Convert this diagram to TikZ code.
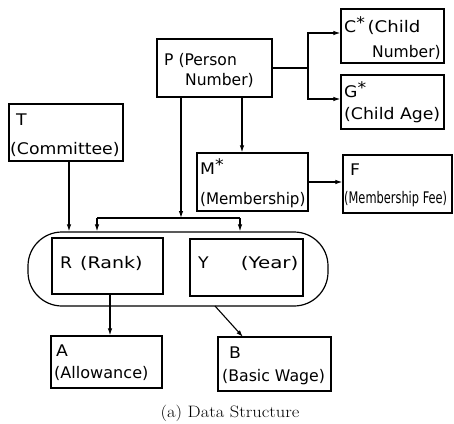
\documentclass[tikz,border=0pt]{standalone}
\usepackage{fontspec}
\usepackage{graphicx}
\setmainfont{DejaVu Sans}
\newfontfamily\boxfont[FakeStretch=1.08]{DejaVu Sans}
\newfontfamily\capfont{Latin Modern Roman}
\usetikzlibrary{arrows.meta}
\newcommand{\sx}[2]{\scalebox{#1}[1]{#2}}
\tikzset{
  box/.style={draw, line width=1.2pt, inner sep=0pt},
  txt/.style={anchor=base west, inner sep=0pt, font=\boxfont\fontsize{16}{16}\selectfont},
  arr/.style={line width=1.1pt, -{Latex[length=7pt,width=4.5pt]}},
  ln/.style={line width=1.1pt}
}
\begin{document}
\begin{tikzpicture}[x=1pt,y=-1pt]
\useasboundingbox (0,0) rectangle (454,423);
% boxes
\node[box, minimum width=103pt, minimum height=54pt] (C) at (392.5,36) {};
\node[box, minimum width=103pt, minimum height=54pt] (G) at (392.5,102) {};
\node[box, minimum width=115pt, minimum height=58pt] (P) at (214.5,68) {};
\node[box, minimum width=114pt, minimum height=57pt] (T) at (66,132.5) {};
\node[box, minimum width=111pt, minimum height=58pt] (M) at (252.5,182) {};
\node[box, minimum width=109pt, minimum height=58pt] (F) at (397.5,184) {};
\node[box, rounded corners=34pt, minimum width=300pt, minimum height=74pt] (E) at (178,269) {};
\node[box, minimum width=111pt, minimum height=56pt] (R) at (107.5,266) {};
\node[box, minimum width=113pt, minimum height=57pt] (Y) at (246.5,267.5) {};
\node[box, minimum width=111pt, minimum height=52pt] (A) at (106.5,362) {};
\node[box, minimum width=113pt, minimum height=54pt] (B) at (274.5,364) {};
% texts
\node[txt] (c1) at (344,32) {C\raisebox{4pt}{*}\,\sx{1.05}{(Child}};
\node[txt] (c2) at (372,57) {\sx{0.9}{Number)}};
\node[txt] (g1) at (344,97) {G\raisebox{4pt}{*}};
\node[txt] (g2) at (344,119) {(Child Age)};
\node[txt] (p1) at (164,65) {\sx{0.9}{P (Person}};
\node[txt] (p2) at (185,85) {\sx{0.9}{Number)}};
\node[txt] (t1) at (16,125) {T};
\node[txt] (t2) at (10,154) {(Committee)};
\node[txt] (m1) at (200,174) {M\raisebox{4pt}{*}};
\node[txt] (m2) at (200,204) {\sx{0.875}{(Membership)}};
\node[txt] (f1) at (350,175) {F};
\node[txt] (f2) at (344,203) {\sx{0.66}{(Membership Fee)}};
\node[txt] (r1) at (60,268) {R\enspace\sx{1.1}{(Rank)}};
\node[txt] (y1) at (198,268) {Y\qquad\sx{1.15}{(Year)}};
\node[txt] (a1) at (56,356) {A};
\node[txt] (a2) at (54,378) {\sx{0.93}{(Allowance)}};
\node[txt] (b1) at (229,358) {B};
\node[txt] (b2) at (222,381) {\sx{0.91}{(Basic Wage)}};
\node[anchor=base, inner sep=0pt, font=\capfont\fontsize{16.5}{16.5}\selectfont] (cap) at (230,417) {\sx{1.12}{(a) Data Structure}};
% connectors
\coordinate (j1) at (308,68);
\draw[ln] (P.east |- j1) -- (j1);
\draw[arr] (j1) |- ([yshift=3pt]C.west);
\draw[arr] (j1) |- ([yshift=3pt]G.west);
\draw[arr] (M.east) -- (M.east -| F.west);
\coordinate (pm) at (242,97);
\draw[arr] (pm) -- (pm |- M.north);
\coordinate (pb) at (181,97);
\coordinate (bus) at (181,218);
\coordinate (busL) at (97,218);
\coordinate (busR) at (240,218);
\draw[arr] (pb) -- (bus);
\draw[ln] (busL) -- (busR);
\draw[arr] (busL) -- (busL |- E.north);
\draw[arr] (busR) -- (busR |- E.north);
\coordinate (tr) at (69,161);
\draw[arr] (tr) -- (tr |- E.north);
\coordinate (ra) at (110,294);
\draw[arr] (ra) -- (ra |- A.north);
\coordinate (yb1) at (215,306);
\coordinate (yb2) at (243,337);
\draw[arr] (yb1) -- (yb2);
\end{tikzpicture}
\end{document}
